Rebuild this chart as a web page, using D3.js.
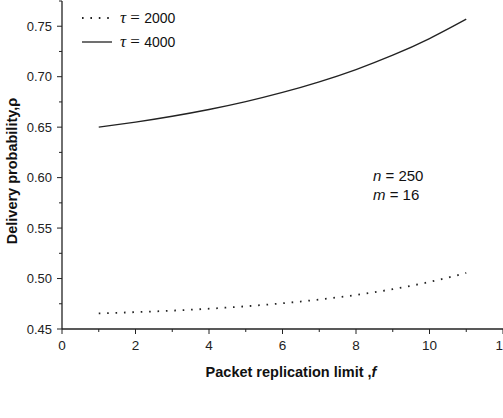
<!DOCTYPE html>
<html>
<head>
<meta charset="utf-8">
<script src="https://cdn.jsdelivr.net/npm/d3@7"></script>
<style>
  body { margin: 0; background: #fff; }
  svg { font-family: "Liberation Sans", Arial, sans-serif; }
</style>
</head>
<body>
<div id="chart"></div>
<script>
// values
var fValues = [1, 2, 3, 4, 5, 6, 7, 8, 9, 10, 11];
var tau2000 = [0.4655, 0.4667, 0.4682, 0.4701, 0.4725, 0.4755, 0.4792, 0.4837, 0.4895, 0.4966, 0.5055];
var tau4000 = [0.6500, 0.6550, 0.6608, 0.6675, 0.6753, 0.6844, 0.6949, 0.7071, 0.7213, 0.7378, 0.7570];
var xTicks = [0, 2, 4, 6, 8, 10, 12];
var yTicks = [0.45, 0.50, 0.55, 0.60, 0.65, 0.70, 0.75];
var legendLabels = ["2000", "4000"];

var width = 503;
var height = 418;

var svg = d3.select("#chart").append("svg")
    .attr("width", width)
    .attr("height", height);

var x = d3.scaleLinear().domain([0, 12]).range([62, 503]);
var y = d3.scaleLinear().domain([0.45, 0.775]).range([329, 1]);

// x axis: major ticks + minor at odd values
var xAxis = svg.append("g").attr("transform", "translate(0,329)");
xAxis.append("line")
    .attr("x1", x(0)).attr("x2", x(12))
    .attr("stroke", "#222").attr("stroke-width", 1.3);
xAxis.selectAll(".minor")
    .data(d3.range(1, 12, 2))
    .enter().append("line")
    .attr("x1", d => x(d)).attr("x2", d => x(d))
    .attr("y1", 0).attr("y2", 3)
    .attr("stroke", "#222").attr("stroke-width", 1);
xAxis.selectAll(".major")
    .data(xTicks)
    .enter().append("line")
    .attr("x1", d => x(d)).attr("x2", d => x(d))
    .attr("y1", 0).attr("y2", 5)
    .attr("stroke", "#222").attr("stroke-width", 1);
xAxis.selectAll("text")
    .data(xTicks)
    .enter().append("text")
    .attr("x", d => x(d))
    .attr("y", 21)
    .attr("text-anchor", "middle")
    .attr("font-size", "13.5px")
    .attr("fill", "#222")
    .text(d => d);

// y axis
var yAxis = svg.append("g").attr("transform", "translate(" + x(0) + ",0)");
yAxis.append("line")
    .attr("y1", y(0.45)).attr("y2", y(0.775))
    .attr("stroke", "#222").attr("stroke-width", 1.3);
yAxis.selectAll(".minor")
    .data(d3.range(0.475, 0.78, 0.05))
    .enter().append("line")
    .attr("y1", d => y(d)).attr("y2", d => y(d))
    .attr("x1", 0).attr("x2", -3)
    .attr("stroke", "#222").attr("stroke-width", 1);
yAxis.selectAll(".major")
    .data(yTicks)
    .enter().append("line")
    .attr("y1", d => y(d)).attr("y2", d => y(d))
    .attr("x1", 0).attr("x2", -5)
    .attr("stroke", "#222").attr("stroke-width", 1);
yAxis.selectAll("text")
    .data(yTicks)
    .enter().append("text")
    .attr("x", -10)
    .attr("y", d => y(d) + 4.5)
    .attr("text-anchor", "end")
    .attr("font-size", "13px")
    .attr("fill", "#222")
    .text(d => d.toFixed(2));

// axis titles
var xTitle = svg.append("text")
    .attr("x", 291).attr("y", 377)
    .attr("text-anchor", "middle")
    .attr("font-size", "14.5px")
    .attr("font-weight", "bold")
    .attr("fill", "#111");
xTitle.append("tspan").text("Packet replication limit ,");
xTitle.append("tspan").attr("font-style", "italic").text("f");

svg.append("text")
    .attr("transform", "translate(17,171) rotate(-90)")
    .attr("text-anchor", "middle")
    .attr("font-size", "14.5px")
    .attr("font-weight", "bold")
    .attr("fill", "#111")
    .text("Delivery probability,\u03c1");

// curves
var line = d3.line()
    .x((d, i) => x(fValues[i]))
    .y(d => y(d))
    .curve(d3.curveNatural);

svg.append("path")
    .datum(tau2000)
    .attr("d", line)
    .attr("fill", "none")
    .attr("stroke", "#222")
    .attr("stroke-width", 1.8)
    .attr("stroke-dasharray", "1.6,6.8");

svg.append("path")
    .datum(tau4000)
    .attr("d", line)
    .attr("fill", "none")
    .attr("stroke", "#222")
    .attr("stroke-width", 1.3);

// legend
var legend = svg.selectAll(".legend")
    .data(legendLabels)
    .enter().append("g")
    .attr("transform", (d, i) => "translate(0," + (18 + i * 24) + ")");

legend.append("line")
    .attr("x1", 82).attr("x2", 112)
    .attr("stroke", "#222")
    .attr("stroke-width", (d, i) => i === 0 ? 1.8 : 1.3)
    .attr("stroke-dasharray", (d, i) => i === 0 ? "1.6,6.8" : null);

var lt = legend.append("text")
    .attr("x", 120).attr("y", 5)
    .attr("font-size", "14px")
    .attr("fill", "#111");
lt.append("tspan")
    .attr("font-family", "Liberation Serif, Times New Roman, serif")
    .attr("font-style", "italic")
    .attr("font-size", "17px")
    .text("\u03c4");
lt.append("tspan")
    .attr("font-family", "Liberation Serif, Times New Roman, serif")
    .attr("font-size", "17px")
    .text(" = ");
lt.append("tspan").text(d => d);

// parameters annotation
var ann = svg.append("g").attr("font-size", "15px").attr("fill", "#111");
var a1 = ann.append("text").attr("x", 373).attr("y", 181);
a1.append("tspan").attr("font-style", "italic").text("n");
a1.append("tspan").text(" = 250");
var a2 = ann.append("text").attr("x", 373).attr("y", 200);
a2.append("tspan").attr("font-style", "italic").text("m");
a2.append("tspan").text(" = 16");
</script>
</body>
</html>
